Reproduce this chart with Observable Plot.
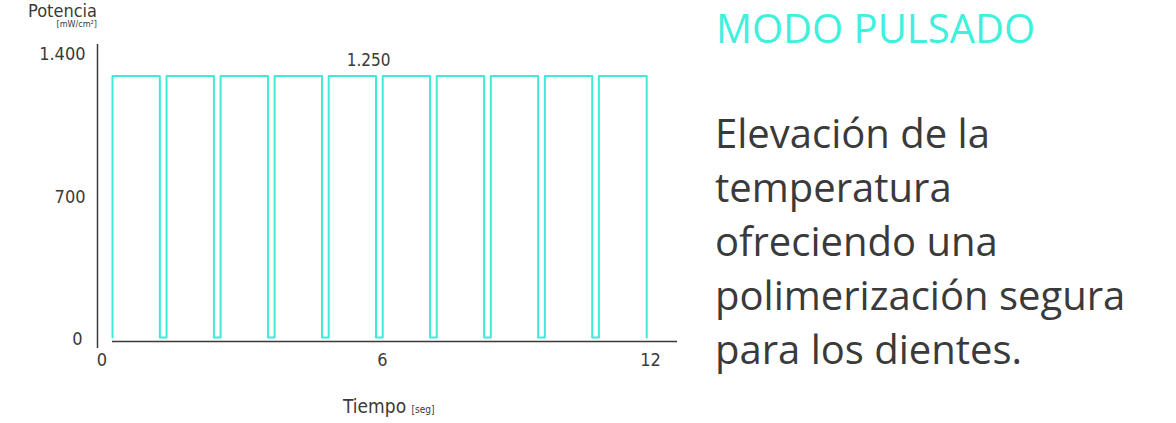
<!DOCTYPE html>
<html>
<head>
<meta charset="utf-8">
<script src="https://cdn.jsdelivr.net/npm/d3@7"></script>
<script src="https://cdn.jsdelivr.net/npm/@observablehq/plot@0.6"></script>
<style>
  html, body { margin: 0; padding: 0; background: #fff; }
  #wrap { position: relative; width: 1176px; height: 423px; overflow: hidden; }
  #chart { position: absolute; left: 0; top: 0; }
  .lab { position: absolute; font-family: "DejaVu Sans Condensed", "DejaVu Sans", sans-serif; color: #3a3a3a; white-space: nowrap; line-height: normal; }
  #title { position: absolute; left: 716px; top: 0px; font-family: "Open Sans", sans-serif; font-size: 40px; line-height: normal; color: #3ff0dc; white-space: nowrap; }
  #body { position: absolute; left: 715px; top: 106px; font-family: "Open Sans", sans-serif; font-size: 40px; line-height: 54px; color: #3a3a3a; white-space: nowrap; }
</style>
</head>
<body>
<div id="wrap">
  <div id="chart"></div>
  <div class="lab" id="potencia" style="right:1079px; top:0px; font-size:18px;">Potencia</div>
  <div class="lab" id="unit" style="right:1079px; top:19px; font-size:9px;">[mW/cm²]</div>
  <div class="lab" id="tiempo" style="left:343px; top:395px; font-size:19px;">Tiempo <span style="font-size:10px;">[seg]</span></div>
  <div id="title">MODO PULSADO</div>
  <div id="body">Elevación de la<br>temperatura<br>ofreciendo una<br>polimerización segura<br>para los dientes.</div>
</div>
<script>
// Data
const pulseStart = [0, 1.21, 2.42, 3.63, 4.84, 6.05, 7.26, 8.47, 9.68, 10.89];
const pulseEnd   = [1.06, 2.27, 3.48, 4.69, 5.90, 7.11, 8.32, 9.53, 10.74, 11.96];
const pulsePower = 1250;
const yTicks = [0, 700, 1400];
const xTicks = [0, 6, 12];
const peakLabel = [1250];

// Build the square wave path points from the pulses
const wave = [];
pulseStart.forEach((s, i) => {
  wave.push({t: s, p: 0});
  wave.push({t: s, p: pulsePower});
  wave.push({t: pulseEnd[i], p: pulsePower});
  wave.push({t: pulseEnd[i], p: 0});
});

const loc = d3.formatLocale({decimal: ",", thousands: ".", grouping: [3], currency: ["", "€"]});
const fmt = loc.format(",d");
const cyan = "#40ead8";
const ink = "#3a3a3a";
const font = "DejaVu Sans Condensed";

const chart = Plot.plot({
  width: 700,
  height: 423,
  marginLeft: 112,
  marginRight: 23,
  marginTop: 44,
  marginBottom: 86,
  style: {fontFamily: font, color: ink, background: "transparent"},
  x: {domain: [0, 12.65]},
  y: {domain: [0, 1400]},
  marks: [
    Plot.ruleX([0], {dx: -15, y1: -52, y2: 1400, stroke: ink, strokeWidth: 1.5}),
    Plot.ruleY([0], {dy: 4, stroke: ink, strokeWidth: 1.5}),
    Plot.line(wave, {x: "t", y: "p", stroke: cyan, strokeWidth: 2}),
    Plot.axisY([yTicks[2]], {tickSize: 0, tickPadding: 27, dy: 10, fontSize: 18, tickFormat: fmt, label: null, fill: ink}),
    Plot.axisY([yTicks[1]], {tickSize: 0, tickPadding: 27, dy: 6, fontSize: 18, tickFormat: fmt, label: null, fill: ink}),
    Plot.axisY([yTicks[0]], {tickSize: 0, tickPadding: 30, dy: 2, fontSize: 18, tickFormat: fmt, label: null, fill: ink}),
    Plot.axisX([xTicks[0]], {tickSize: 0, tickPadding: 16, dx: -10.5, fontSize: 18, tickFormat: fmt, label: null, fill: ink}),
    Plot.axisX(xTicks.slice(1), {tickSize: 0, tickPadding: 16, dx: 2, fontSize: 18, tickFormat: fmt, label: null, fill: ink}),
    Plot.text(peakLabel, {x: () => (pulseStart[0] + pulseEnd[pulseEnd.length - 1]) / 2, y: d => d, text: d => fmt(d), dx: -11, dy: -10, lineAnchor: "bottom", fontSize: 17, fill: ink})
  ]
});
document.getElementById("chart").appendChild(chart);
</script>
</body>
</html>
